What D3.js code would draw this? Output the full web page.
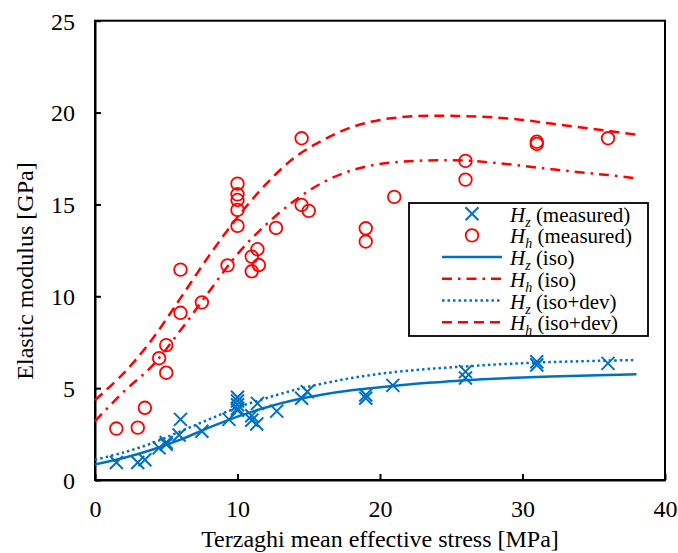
<!DOCTYPE html>
<html>
<head>
<meta charset="utf-8">
<script src="https://cdn.jsdelivr.net/npm/d3@7"></script>
</head>
<body style="margin:0;background:#fff">
<svg id="chart" width="678" height="553" font-family="Liberation Serif, Times New Roman, Tinos, serif" style="display:block"></svg>
<script>
// ---- Data ----
const xTicks = [0, 10, 20, 30, 40];
const yTicks = [0, 5, 10, 15, 20, 25];

// Hz measured (crosses)
const hzMeasX = [1.5, 3.0, 3.5, 4.5, 5.0, 5.0, 6.0, 5.9, 7.5, 9.4, 10.0, 10.0, 10.0, 10.0, 10.0, 11.0, 11.0, 11.35, 11.4, 12.75, 14.5, 14.9, 19.0, 19.0, 20.9, 26.0, 26.0, 31.0, 31.0, 36.0];
const hzMeasY = [0.95, 0.95, 1.1, 1.75, 1.95, 2.05, 3.3, 2.45, 2.65, 3.3, 4.5, 4.3, 4.1, 3.9, 3.8, 3.5, 3.25, 3.05, 4.17, 3.75, 4.45, 4.8, 4.63, 4.45, 5.15, 5.9, 5.55, 6.44, 6.26, 6.35];

// Hh measured (circles)
const hhMeasX = [1.5, 3.0, 3.5, 4.5, 5.0, 5.0, 6.0, 6.0, 7.5, 9.3, 10.0, 10.0, 10.0, 10.0, 10.0, 11.0, 11.0, 11.4, 11.5, 12.7, 14.5, 14.5, 15.0, 19.0, 19.0, 21.0, 26.0, 26.0, 31.0, 31.0, 36.0];
const hhMeasY = [2.8, 2.85, 3.93, 6.63, 7.34, 5.84, 11.45, 9.1, 9.67, 11.68, 16.13, 15.55, 15.24, 14.7, 13.83, 12.16, 11.36, 12.56, 11.7, 13.72, 18.6, 14.97, 14.65, 13.7, 12.98, 15.41, 17.37, 16.35, 18.41, 18.29, 18.6];

// Model curves
const curveX      = [0, 2, 4, 6, 8, 10, 12, 14, 16, 18, 20, 22, 24, 26, 28, 30, 32, 34, 36, 38];
const hzIso       = [0.85, 1.2, 1.65, 2.2, 2.85, 3.45, 3.95, 4.35, 4.65, 4.88, 5.05, 5.2, 5.32, 5.43, 5.51, 5.58, 5.63, 5.67, 5.71, 5.75];
const hhIso       = [3.2, 4.8, 6.2, 8.15, 10.25, 12.3, 13.9, 15.2, 16.2, 16.85, 17.2, 17.35, 17.4, 17.38, 17.27, 17.1, 16.92, 16.75, 16.6, 16.42];
const hzIsoDev    = [1.1, 1.5, 2.0, 2.65, 3.3, 3.95, 4.45, 4.9, 5.25, 5.55, 5.78, 5.95, 6.08, 6.18, 6.28, 6.36, 6.42, 6.46, 6.5, 6.53];
const hhIsoDev    = [4.35, 5.8, 7.65, 9.9, 12.2, 14.3, 16.1, 17.55, 18.5, 19.2, 19.6, 19.78, 19.83, 19.8, 19.74, 19.6, 19.4, 19.2, 19.0, 18.8];

const legendSubs  = ["z", "h", "z", "h", "z", "h"];
const legendTexts = [" (measured)", " (measured)", " (iso)", " (iso)", " (iso+dev)", " (iso+dev)"];

// ---- Layout ----
const FONT = "Liberation Serif, Times New Roman, Tinos, serif";
const BLUE = "#0070C0", RED = "#FF0000";
const svg = d3.select("#chart");
const pL = 95, pR = 665, pT = 20.7, pB = 480;

const x = d3.scaleLinear().domain([0, 40]).range([pL, pR]);
const y = d3.scaleLinear().domain([0, 25]).range([pB, pT]);

// frame
svg.append("rect")
  .attr("x", pL).attr("y", pT)
  .attr("width", pR - pL).attr("height", pB - pT)
  .attr("fill", "none").attr("stroke", "#000").attr("stroke-width", 2);

// axes with inward ticks
const xAxis = svg.append("g").attr("transform", `translate(0,${pB})`)
  .call(d3.axisBottom(x).tickValues(xTicks).tickSizeInner(-6).tickSizeOuter(0).tickFormat(d3.format("d")));
const yAxis = svg.append("g").attr("transform", `translate(${pL},0)`)
  .call(d3.axisLeft(y).tickValues(yTicks).tickSizeInner(-6).tickSizeOuter(0).tickFormat(d3.format("d")));
[xAxis, yAxis].forEach(g => {
  g.attr("font-family", FONT).attr("font-size", 24);
  g.select(".domain").attr("stroke", "#000").attr("stroke-width", 2);
  g.selectAll(".tick line").attr("stroke", "#000").attr("stroke-width", 2);
  g.selectAll(".tick text").attr("font-family", FONT).attr("font-size", 24).attr("fill", "#000");
});
xAxis.selectAll(".tick text").attr("y", 20).attr("dy", "0.71em");
yAxis.selectAll(".tick text").attr("x", -20).attr("dy", "0.35em");

// axis titles
svg.append("text")
  .attr("x", 380).attr("y", 547)
  .attr("text-anchor", "middle")
  .attr("font-family", FONT).attr("font-size", 24)
  .text("Terzaghi mean effective stress [MPa]");
svg.append("text")
  .attr("transform", "translate(33,271) rotate(-90)")
  .attr("text-anchor", "middle")
  .attr("font-family", FONT).attr("font-size", 24)
  .text("Elastic modulus [GPa]");

// markers
const crossPath = s => `M${-s},${-s}L${s},${s}M${-s},${s}L${s},${-s}`;
svg.append("g").selectAll("path").data(d3.range(hzMeasX.length)).join("path")
  .attr("transform", i => `translate(${x(hzMeasX[i])},${y(hzMeasY[i])})`)
  .attr("d", crossPath(6.5))
  .attr("fill", "none").attr("stroke", BLUE).attr("stroke-width", 2);

svg.append("g").selectAll("circle").data(d3.range(hhMeasX.length)).join("circle")
  .attr("cx", i => x(hhMeasX[i])).attr("cy", i => y(hhMeasY[i]))
  .attr("r", 6.3)
  .attr("fill", "none").attr("stroke", RED).attr("stroke-width", 1.8);

// curves
const line = d3.line().x(d => x(d[0])).y(d => y(d[1])).curve(d3.curveCatmullRom.alpha(0.5));
const series = [
  { ys: hzIso,    color: BLUE, dash: null,          width: 2.5 },
  { ys: hhIso,    color: RED,  dash: "10,6,2.5,6",  width: 2.5 },
  { ys: hzIsoDev, color: BLUE, dash: "2.5,3",       width: 2.5 },
  { ys: hhIsoDev, color: RED,  dash: "10,6",        width: 2.5 }
];
series.forEach(s => {
  svg.append("path")
    .datum(curveX.map((cx, i) => [cx, s.ys[i]]))
    .attr("d", line)
    .attr("fill", "none")
    .attr("stroke", s.color)
    .attr("stroke-width", s.width)
    .attr("stroke-dasharray", s.dash);
});

// legend
const lg = svg.append("g");
lg.append("rect")
  .attr("x", 409).attr("y", 203).attr("width", 239).attr("height", 133)
  .attr("fill", "#fff").attr("stroke", "#000").attr("stroke-width", 1.8);

const rowBase = 221.7, rowStep = 21.7;
const symX = 472, lineX0 = 442, lineX1 = 502, textX = 510;
const legendStyles = [
  { type: "cross" }, { type: "circle" },
  series[0], series[1], series[2], series[3]
];
legendStyles.forEach((st, i) => {
  const base = rowBase + i * rowStep;
  const cy = base - 8;
  if (st.type === "cross") {
    lg.append("path").attr("transform", `translate(${symX},${cy})`).attr("d", crossPath(6.5))
      .attr("fill", "none").attr("stroke", BLUE).attr("stroke-width", 2);
  } else if (st.type === "circle") {
    lg.append("circle").attr("cx", symX).attr("cy", cy).attr("r", 6.3)
      .attr("fill", "none").attr("stroke", RED).attr("stroke-width", 1.8);
  } else {
    lg.append("line").attr("x1", lineX0).attr("x2", lineX1).attr("y1", cy).attr("y2", cy)
      .attr("stroke", st.color).attr("stroke-width", st.width).attr("stroke-dasharray", st.dash);
  }
  const t = lg.append("text").attr("x", textX).attr("y", base)
    .attr("font-family", FONT).attr("font-size", 21);
  t.append("tspan").attr("font-style", "italic").text("H");
  t.append("tspan").attr("font-style", "italic").attr("font-size", 14).attr("dy", 5).text(legendSubs[i]);
  t.append("tspan").attr("dy", -5).text(legendTexts[i]);
});
</script>
</body>
</html>
